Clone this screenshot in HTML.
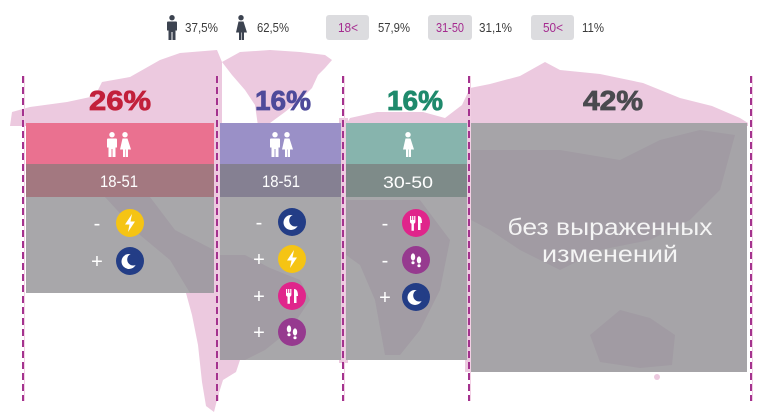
<!DOCTYPE html>
<html><head><meta charset="utf-8"><style>
html,body{margin:0;padding:0;background:#fff;}
svg{display:block;font-family:"Liberation Sans","DejaVu Sans",sans-serif;}
</style></head><body>
<svg width="768" height="417" viewBox="0 0 768 417" xmlns="http://www.w3.org/2000/svg">
<defs>
<g id="man"><circle cx="5" cy="2.7" r="2.7"/><path d="M1,6.5 h8 a1,1 0 0 1 1,1 v8 h-1.5 v9.5 h-3 v-8 h-1 v8 h-3 v-9.5 h-1.5 v-8 a1,1 0 0 1 1,-1 z"/></g>
<g id="woman"><circle cx="6" cy="2.7" r="2.7"/><path d="M3.5,6.5 h5 l3.5,11 h-3 v7.5 h-2.2 v-7.5 h-0.6 v7.5 h-2.2 v-7.5 h-3 z"/></g>
<g id="bolt"><circle r="14" fill="#f5c414"/><path d="M2,-9 L-5,1.5 H-0.5 L-2,9 L5,-1.5 H0.5 Z" fill="#fff"/></g>
<g id="moon"><circle r="14" fill="#233d86"/><circle cx="-1" cy="0.5" r="7.5" fill="#fff"/><circle cx="3.2" cy="-1.5" r="6" fill="#233d86"/></g>
<g id="food"><circle r="14" fill="#e0258b"/><path d="M-6,-7 h1.2 v4 h0.9 v-4 h1.2 v4 h0.9 v-4 h1.2 v6 a2,2 0 0 1 -1.5,1.8 v7 h-2.4 v-7 a2,2 0 0 1 -1.5,-1.8 z" fill="#fff"/><path d="M2,-7 c3,0 4,3 4,7 h-1.5 v7 h-2.5 z" fill="#fff"/></g>
<g id="feet"><circle r="14" fill="#963a8f"/><ellipse cx="-3" cy="-3" rx="2.2" ry="3.6" fill="#fff"/><ellipse cx="-3" cy="2.8" rx="1.6" ry="1.5" fill="#fff"/><ellipse cx="3" cy="0" rx="2.2" ry="3.6" fill="#fff"/><ellipse cx="3" cy="5.8" rx="1.6" ry="1.5" fill="#fff"/></g>
</defs>

<rect width="768" height="417" fill="#fff"/>

<!-- map -->
<g fill="#ecc9df">
<path d="M10,126 L12,112 L30,107 L67,102 L95,96 L102,82 L130,77 L160,60 L180,53 L217,50 L222,62 L222,126 Z"/>
<path d="M222,62 L240,52 L270,50 L300,52 L325,55 L332,60 L325,68 L318,75 L312,88 L300,100 L285,112 L270,123 L258,126 L255,105 L245,90 L232,75 Z"/>
<rect x="212" y="120" width="10" height="180"/>
<rect x="339" y="118" width="9" height="245"/>
<rect x="465" y="100" width="8" height="272"/>
<path d="M345,126 L350,118 L377,112 L423,112 L445,118 L462,105 L470,88 L490,84 L520,76 L545,62 L560,70 L600,74 L643,83 L680,98 L712,106 L740,118 L748,123 L748,126 Z"/>
<path d="M186,293 L220,293 L220,360 L240,360 L236,372 L223,380 L218,396 L214,412 L206,406 L202,382 L198,345 L192,315 Z"/>
<ellipse cx="657" cy="377" rx="3" ry="3"/>
</g>

<!-- dashed lines -->
<g stroke="#f2cfe4" stroke-width="1">
<line x1="24.5" y1="76" x2="24.5" y2="401"/><line x1="218.5" y1="76" x2="218.5" y2="401"/><line x1="344.5" y1="76" x2="344.5" y2="401"/><line x1="470.5" y1="76" x2="470.5" y2="401"/><line x1="752.5" y1="76" x2="752.5" y2="401"/>
</g>
<g stroke="#a4328e" stroke-width="2" stroke-dasharray="7 4">
<line x1="23" y1="76" x2="23" y2="401"/><line x1="217" y1="76" x2="217" y2="401"/><line x1="343" y1="76" x2="343" y2="401"/><line x1="469" y1="76" x2="469" y2="401"/><line x1="751" y1="76" x2="751" y2="401"/>
</g>

<!-- box 1 -->
<rect x="26" y="123" width="188" height="41" fill="#ea7190"/>
<rect x="26" y="164" width="188" height="33" fill="#a37880"/>
<rect x="26" y="197" width="188" height="96" fill="#a8a7aa"/>
<path d="M105,197 L150,197 L175,230 L214,250 L214,293 L190,293 L170,260 L140,235 Z" fill="#a29ca4"/>
<!-- box 2 -->
<rect x="220" y="123" width="121" height="41" fill="#9a90c7"/>
<rect x="220" y="164" width="121" height="33" fill="#858092"/>
<rect x="220" y="197" width="121" height="163" fill="#a8a7aa"/>
<path d="M220,255 L245,255 L270,268 L300,280 L310,300 L290,330 L265,350 L245,360 L220,360 Z" fill="#a29ca4"/>
<!-- box 3 -->
<rect x="346" y="123" width="121" height="41" fill="#87b4ad"/>
<rect x="346" y="164" width="121" height="33" fill="#7e8b89"/>
<rect x="346" y="197" width="121" height="163" fill="#a8a7aa"/>
<path d="M346,200 L420,200 L450,240 L440,290 L420,330 L400,355 L385,355 L375,300 L360,265 L346,255 Z" fill="#a29ca4"/>
<!-- box 4 -->
<rect x="471" y="123" width="276" height="249" fill="#a6a4a8"/>
<path d="M471,150 L560,150 L620,160 L660,140 L700,130 L735,135 L720,190 L690,220 L650,240 L600,250 L560,270 L520,250 L490,230 L471,220 Z" fill="#a19ba3"/>
<path d="M590,335 L620,310 L650,318 L675,335 L672,365 L640,368 L600,362 Z" fill="#a19ba3"/>

<!-- percentages -->
<g font-weight="bold" font-size="28" text-anchor="middle" stroke-width="0.8">
<text x="120" y="110" fill="#c2203b" stroke="#c2203b" textLength="62" lengthAdjust="spacingAndGlyphs">26%</text>
<text x="283" y="110" fill="#4e4a9a" stroke="#4e4a9a" textLength="56" lengthAdjust="spacingAndGlyphs">16%</text>
<text x="415" y="110" fill="#1f8a6c" stroke="#1f8a6c" textLength="56" lengthAdjust="spacingAndGlyphs">16%</text>
<text x="613" y="110" fill="#4a4a4f" stroke="#4a4a4f" textLength="60" lengthAdjust="spacingAndGlyphs">42%</text>
</g>

<!-- header icons -->
<g fill="#fff">
<use href="#man" x="107" y="132"/><use href="#woman" x="119" y="132"/>
<use href="#man" x="270" y="132"/><use href="#woman" x="281" y="132"/>
<use href="#woman" x="402" y="132"/>
</g>

<!-- ages -->
<g fill="#fff" font-size="17" text-anchor="middle">
<text x="119" y="187" textLength="38" lengthAdjust="spacingAndGlyphs">18-51</text>
<text x="281" y="187" textLength="38" lengthAdjust="spacingAndGlyphs">18-51</text>
<text x="408" y="188" textLength="50" lengthAdjust="spacingAndGlyphs">30-50</text>
</g>

<!-- signs -->
<g fill="#fff" font-size="20" text-anchor="middle">
<text x="97" y="230">-</text><text x="97" y="268">+</text>
<text x="259" y="229">-</text><text x="259" y="266">+</text><text x="259" y="303">+</text><text x="259" y="339">+</text>
<text x="385" y="230">-</text><text x="385" y="267">-</text><text x="385" y="304">+</text>
</g>

<!-- circle icons -->
<use href="#bolt" x="130" y="223"/><use href="#moon" x="130" y="261"/>
<use href="#moon" x="292" y="222"/><use href="#bolt" x="292" y="259"/><use href="#food" x="292" y="296"/><use href="#feet" x="292" y="332"/>
<use href="#food" x="416" y="223"/><use href="#feet" x="416" y="260"/><use href="#moon" x="416" y="297"/>

<!-- box 4 text -->
<g fill="#f4f4f4" font-size="23" text-anchor="middle">
<text x="610" y="235" textLength="205" lengthAdjust="spacingAndGlyphs">без выраженных</text>
<text x="610" y="262" textLength="136" lengthAdjust="spacingAndGlyphs">изменений</text>
</g>

<!-- top legend -->
<g fill="#3c4350">
<use href="#man" x="167" y="15"/>
<use href="#woman" x="235" y="15"/>
</g>
<g fill="#dcdcdf">
<rect x="326" y="15" width="43" height="25" rx="3"/>
<rect x="428" y="15" width="44" height="25" rx="3"/>
<rect x="531" y="15" width="43" height="25" rx="3"/>
</g>
<g font-size="13" fill="#a52a8f" text-anchor="middle">
<text x="348" y="32" textLength="20" lengthAdjust="spacingAndGlyphs">18&lt;</text>
<text x="450" y="32" textLength="28" lengthAdjust="spacingAndGlyphs">31-50</text>
<text x="553" y="32" textLength="20" lengthAdjust="spacingAndGlyphs">50&lt;</text>
</g>
<g font-size="13" fill="#3b3b3b">
<text x="185" y="32" textLength="33" lengthAdjust="spacingAndGlyphs">37,5%</text>
<text x="257" y="32" textLength="32" lengthAdjust="spacingAndGlyphs">62,5%</text>
<text x="378" y="32" textLength="32" lengthAdjust="spacingAndGlyphs">57,9%</text>
<text x="479" y="32" textLength="33" lengthAdjust="spacingAndGlyphs">31,1%</text>
<text x="582" y="32" textLength="22" lengthAdjust="spacingAndGlyphs">11%</text>
</g>
</svg>
</body></html>
